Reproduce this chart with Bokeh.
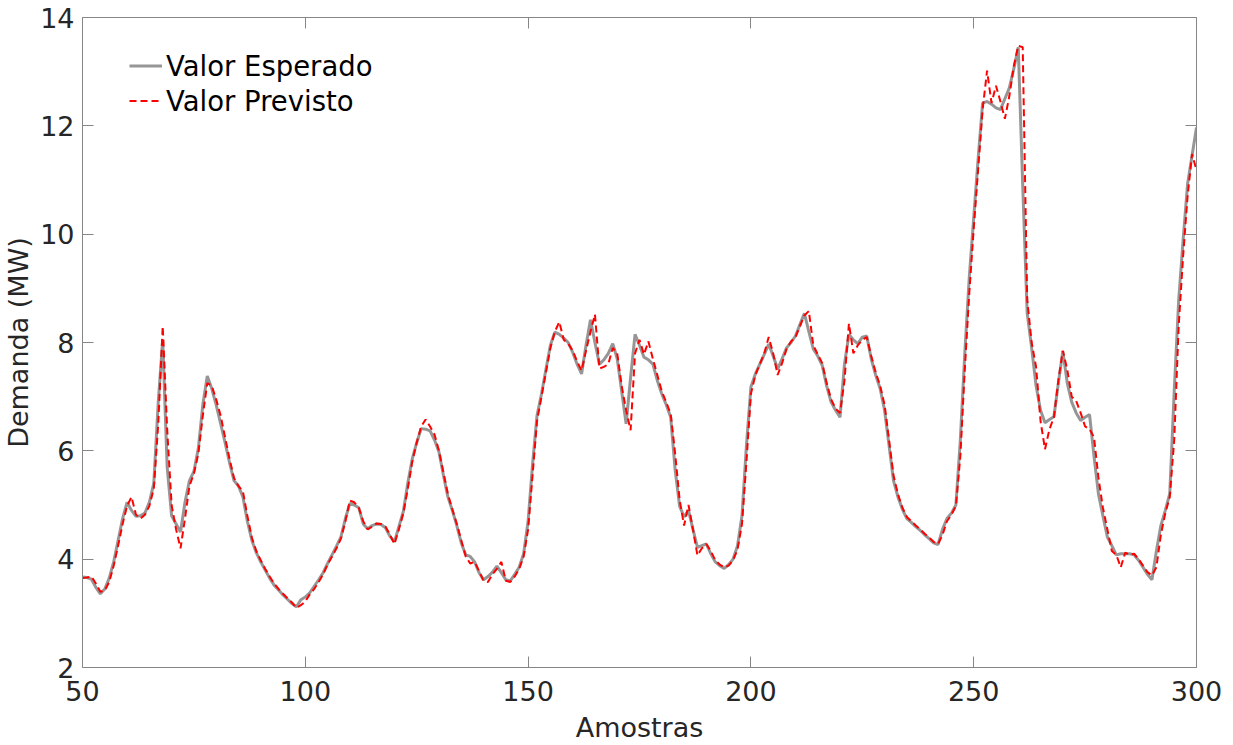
import numpy as np
from bokeh.plotting import figure
from bokeh.models import Range1d, LinearAxis, FixedTicker, Legend, LegendItem
from bokeh.embed import file_html
from bokeh.resources import INLINE

# Sample index (x axis)
amostras = list(range(50, 301))

# Measured demand (MW), samples 50..300
valor_esperado = [
    3.67, 3.66, 3.63, 3.48, 3.36, 3.45, 3.65, 3.95, 4.35, 4.75,
    5.05, 4.90, 4.79, 4.80, 4.85, 5.05, 5.40, 6.90, 8.05, 5.70,
    4.80, 4.65, 4.50, 5.05, 5.45, 5.62, 6.05, 6.85, 7.38, 7.15,
    6.85, 6.50, 6.15, 5.78, 5.45, 5.35, 5.15, 4.70, 4.35, 4.12,
    3.95, 3.80, 3.65, 3.52, 3.43, 3.34, 3.26, 3.18, 3.12, 3.25,
    3.30, 3.38, 3.50, 3.62, 3.75, 3.92, 4.08, 4.24, 4.41, 4.75,
    5.03, 5.00, 4.95, 4.65, 4.56, 4.62, 4.65, 4.64, 4.58, 4.42,
    4.32, 4.60, 4.88, 5.40, 5.85, 6.15, 6.41, 6.40, 6.37, 6.20,
    5.98, 5.55, 5.15, 4.90, 4.62, 4.30, 4.08, 4.05, 3.95, 3.75,
    3.62, 3.68, 3.76, 3.87, 3.75, 3.62, 3.60, 3.72, 3.85, 4.10,
    4.70, 5.75, 6.65, 7.05, 7.50, 7.95, 8.19, 8.15, 8.08, 8.00,
    7.82, 7.60, 7.42, 7.95, 8.42, 8.00, 7.60, 7.68, 7.80, 7.98,
    7.70, 7.10, 6.50, 7.35, 8.15, 7.95, 7.73, 7.68, 7.60, 7.30,
    7.05, 6.85, 6.62, 5.65, 4.98, 4.78, 4.90, 4.55, 4.22, 4.25,
    4.28, 4.10, 3.95, 3.88, 3.83, 3.90, 4.00, 4.25, 4.80, 6.10,
    7.18, 7.42, 7.60, 7.78, 7.97, 7.75, 7.51, 7.70, 7.90, 8.00,
    8.12, 8.33, 8.54, 8.20, 7.88, 7.75, 7.58, 7.20, 6.90, 6.75,
    6.62, 7.60, 8.15, 8.05, 7.98, 8.10, 8.12, 7.70, 7.40, 7.15,
    6.75, 6.10, 5.45, 5.15, 4.92, 4.75, 4.68, 4.60, 4.53, 4.45,
    4.38, 4.30, 4.27, 4.55, 4.75, 4.85, 5.00, 6.20, 7.80, 9.20,
    10.30, 11.40, 12.42, 12.45, 12.40, 12.33, 12.30, 12.50, 12.70, 13.05,
    13.45, 10.90, 8.55, 7.90, 7.20, 6.75, 6.52, 6.58, 6.63, 7.25,
    7.84, 7.25, 6.90, 6.70, 6.56, 6.62, 6.67, 5.90, 5.20, 4.80,
    4.41, 4.25, 4.08, 4.10, 4.10, 4.10, 4.08, 3.98, 3.85, 3.72,
    3.62, 4.15, 4.62, 4.90, 5.21, 7.10, 8.78, 9.90, 10.93, 11.45,
    11.97,
]

# Forecast demand (MW), samples 50..300
valor_previsto = [
    3.65, 3.66, 3.68, 3.55, 3.40, 3.42, 3.58, 3.88, 4.25, 4.65,
    4.98, 5.15, 4.82, 4.75, 4.82, 4.98, 5.30, 6.50, 8.30, 6.40,
    5.00, 4.55, 4.20, 4.75, 5.35, 5.58, 5.95, 6.65, 7.25, 7.20,
    6.95, 6.65, 6.25, 5.85, 5.50, 5.35, 5.25, 4.80, 4.40, 4.15,
    3.98, 3.82, 3.68, 3.55, 3.45, 3.36, 3.28, 3.20, 3.10, 3.15,
    3.22, 3.35, 3.45, 3.58, 3.72, 3.90, 4.05, 4.20, 4.38, 4.70,
    5.08, 5.05, 4.95, 4.70, 4.55, 4.60, 4.66, 4.65, 4.60, 4.45,
    4.28, 4.55, 4.85, 5.30, 5.80, 6.15, 6.45, 6.58, 6.45, 6.30,
    6.00, 5.60, 5.20, 4.92, 4.65, 4.35, 4.05, 3.92, 3.95, 3.78,
    3.60, 3.58, 3.72, 3.82, 3.95, 3.60, 3.58, 3.68, 3.82, 4.05,
    4.55, 5.55, 6.55, 7.00, 7.45, 7.90, 8.20, 8.38, 8.05, 7.98,
    7.85, 7.65, 7.48, 7.85, 8.20, 8.52, 7.52, 7.55, 7.60, 7.90,
    7.80, 7.20, 6.75, 6.38, 7.80, 8.05, 7.78, 8.02, 7.70, 7.40,
    7.10, 6.90, 6.68, 5.95, 5.10, 4.62, 5.00, 4.55, 4.07, 4.20,
    4.28, 4.15, 3.98, 3.90, 3.85, 3.88, 3.98, 4.18, 4.65, 5.80,
    7.05, 7.40, 7.60, 7.80, 8.10, 7.80, 7.40, 7.62, 7.88, 8.02,
    8.10, 8.30, 8.50, 8.58, 7.95, 7.78, 7.62, 7.25, 6.95, 6.78,
    6.70, 7.30, 8.35, 7.80, 7.95, 8.05, 8.10, 7.75, 7.45, 7.20,
    6.85, 6.20, 5.55, 5.20, 4.95, 4.78, 4.70, 4.62, 4.55, 4.47,
    4.40, 4.32, 4.28, 4.45, 4.70, 4.82, 4.98, 5.90, 7.50, 8.90,
    10.10, 11.20, 12.30, 13.02, 12.42, 12.74, 12.45, 12.13, 12.55, 13.10,
    13.48, 13.45, 8.80, 8.00, 7.55, 6.55, 6.03, 6.40, 6.62, 7.30,
    7.85, 7.50, 7.00, 6.92, 6.70, 6.45, 6.40, 6.25, 5.50, 4.95,
    4.55, 4.15, 4.08, 3.85, 4.12, 4.08, 4.10, 4.00, 3.88, 3.76,
    3.70, 3.85, 4.45, 4.85, 5.15, 6.20, 8.30, 9.60, 10.70, 11.48,
    11.18,
]

x_ticks = [50, 100, 150, 200, 250, 300]
y_ticks = [2, 4, 6, 8, 10, 12, 14]

FONT = "DejaVu Sans"
AXIS_GRAY = "#868686"
TEXT_DARK = "#262626"

p = figure(
    width=1233, height=745,
    output_backend="svg", toolbar_location=None,
    x_range=Range1d(50, 300), y_range=Range1d(2, 14),
    min_border_left=81, min_border_right=37,
    min_border_top=17, min_border_bottom=78,
    x_axis_label="Amostras", y_axis_label="Demanda (MW)",
)
p.outline_line_color = None
p.xgrid.visible = False
p.ygrid.visible = False
p.background_fill_color = "white"
p.border_fill_color = "white"

bottom_axis = p.below[0]
left_axis = p.left[0]
bottom_axis.ticker = FixedTicker(ticks=x_ticks)
left_axis.ticker = FixedTicker(ticks=y_ticks)

# mirrored axes on top and right (ticks only)
top_axis = LinearAxis(ticker=FixedTicker(ticks=x_ticks))
right_axis = LinearAxis(ticker=FixedTicker(ticks=y_ticks))
top_axis.major_label_overrides = {t: "" for t in x_ticks}
right_axis.major_label_overrides = {t: "" for t in y_ticks}
for ax in (top_axis, right_axis):
    ax.major_label_text_font_size = "0px"
    ax.major_label_standoff = 0
p.add_layout(top_axis, "above")
p.add_layout(right_axis, "right")

for ax in [bottom_axis, left_axis, top_axis, right_axis]:
    ax.axis_line_color = AXIS_GRAY
    ax.axis_line_width = 1
    ax.major_tick_line_color = AXIS_GRAY
    ax.major_tick_line_width = 1
    ax.major_tick_in = 11
    ax.major_tick_out = 0
    ax.minor_tick_line_color = None

for ax in [bottom_axis, left_axis]:
    ax.major_label_text_font = FONT
    ax.major_label_text_font_size = "27px"
    ax.major_label_text_color = TEXT_DARK
    ax.axis_label_text_font = FONT
    ax.axis_label_text_font_size = "27px"
    ax.axis_label_text_font_style = "normal"
    ax.axis_label_text_color = TEXT_DARK

bottom_axis.major_label_standoff = 13
bottom_axis.axis_label_standoff = 8
left_axis.major_label_standoff = 8
left_axis.axis_label_standoff = 3

r_esp = p.line(amostras, valor_esperado, line_color="#969696", line_width=3)
r_prev = p.line(amostras, valor_previsto, line_color="#ff0000", line_width=2,
                line_dash="7 4")

legend = Legend(
    items=[
        LegendItem(label="Valor Esperado", renderers=[r_esp]),
        LegendItem(label="Valor Previsto", renderers=[r_prev]),
    ],
    location=(47, 549),
    border_line_color=None,
    background_fill_alpha=0,
    label_text_font=FONT,
    label_text_font_size="27.5px",
    label_text_color="black",
    glyph_width=33,
    glyph_height=35,
    label_height=35,
    label_standoff=4,
    spacing=0,
    padding=2,
    margin=0,
)
p.add_layout(legend)

open("out.html", "w").write(file_html(p, INLINE))
